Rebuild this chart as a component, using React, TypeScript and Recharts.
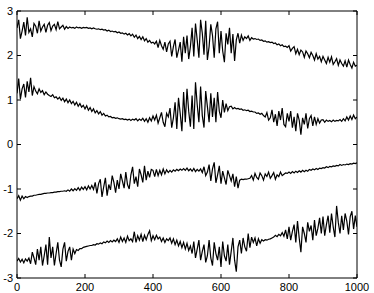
import React from "react";
import { LineChart, Line, XAxis, YAxis } from "recharts";

const STEP = 5;

const series1: number[] = [
  2.62, 2.8, 2.38, 2.55, 2.75, 2.45, 2.86, 2.52, 2.6, 2.42, 2.72, 2.66, 2.5, 2.78, 2.55, 2.64, 2.7, 2.52, 2.68, 2.74,
  2.56, 2.66, 2.7, 2.58, 2.76, 2.6, 2.64, 2.68, 2.59, 2.65, 2.61, 2.64, 2.62, 2.63, 2.61, 2.64, 2.62, 2.63, 2.61, 2.63,
  2.62, 2.63, 2.61, 2.62, 2.6, 2.62, 2.6, 2.59, 2.6, 2.58, 2.59, 2.57, 2.58, 2.55, 2.57, 2.54, 2.55, 2.53, 2.54, 2.51,
  2.53, 2.5, 2.51, 2.48, 2.5, 2.46, 2.49, 2.44, 2.48, 2.41, 2.46, 2.38, 2.43, 2.36, 2.42, 2.33, 2.38, 2.3, 2.34, 2.28,
  2.3, 2.26, 2.32, 2.18, 2.34, 2.22, 2.14, 2.3, 2.08, 2.26, 2.32, 1.98, 2.2, 2.36, 1.95, 2.12, 2.3, 1.86, 2.42, 2.05,
  2.45, 1.92, 2.2, 2.62, 1.98, 2.72, 2.35, 1.95, 2.8, 2.5, 2.02, 2.78, 1.9, 2.2, 2.7, 2.45, 1.95, 2.6, 2.76, 2.05,
  2.55, 2.1, 1.85, 2.5, 2.25, 2.62, 2.05, 2.48, 1.88, 2.35, 2.5, 2.28, 2.46, 2.34, 2.42, 2.38, 2.44, 2.34, 2.4, 2.37,
  2.38, 2.36, 2.37, 2.34, 2.35, 2.32, 2.33, 2.3, 2.31, 2.29, 2.3, 2.27, 2.28, 2.24, 2.26, 2.22, 2.24, 2.2, 2.21, 2.18,
  2.22, 2.1, 2.16, 2.2, 2.04, 2.14, 2.02, 2.12, 2.08, 1.96, 2.1, 2.04, 1.95, 2.07, 2.0, 1.9, 2.04, 1.92, 1.98, 1.86,
  1.98, 1.9, 1.82, 1.96, 1.85, 1.97, 1.8, 1.86, 1.93, 1.78, 1.9, 1.82, 1.76, 1.88, 1.74, 1.9, 1.8, 1.72, 1.85, 1.76,
  1.78,
];

const series2: number[] = [
  1.15, 1.48, 1.02, 1.25, 1.36, 1.06, 1.42, 1.18, 1.5, 1.1, 1.3, 1.2, 1.14, 1.25, 1.17, 1.21, 1.12, 1.18, 1.13, 1.1,
  1.08, 1.12, 1.05, 1.07, 1.02, 1.06, 0.99, 1.04, 0.96, 1.02, 0.94, 1.0, 0.92, 0.97, 0.89, 0.95, 0.86, 0.92, 0.84, 0.88,
  0.8, 0.87, 0.77, 0.83, 0.74, 0.8, 0.71, 0.76, 0.69, 0.74, 0.66, 0.7, 0.64, 0.66, 0.62, 0.63, 0.6, 0.61, 0.59, 0.6,
  0.58, 0.57, 0.58, 0.56, 0.57, 0.55, 0.57, 0.54, 0.57, 0.55, 0.58, 0.53, 0.57, 0.54, 0.59, 0.52, 0.58, 0.5, 0.6, 0.53,
  0.64, 0.55, 0.66, 0.48, 0.6, 0.72, 0.5, 0.4, 0.7, 0.62, 0.82, 0.38, 0.6, 0.95, 0.35, 1.05, 0.7, 0.3, 1.18, 0.5,
  1.25, 0.75, 0.4, 1.1, 0.35, 1.4, 0.9, 0.5, 1.3, 0.65, 0.38, 1.2, 0.85, 0.5, 1.15, 0.62, 1.05, 0.5, 1.18, 0.75,
  0.6, 1.0, 0.72, 0.92, 0.76, 0.85, 0.86, 0.8, 0.83, 0.8, 0.81, 0.79, 0.8, 0.77, 0.78, 0.76, 0.77, 0.74, 0.75, 0.73,
  0.73, 0.7, 0.71, 0.68, 0.7, 0.65, 0.62, 0.72, 0.55, 0.6, 0.78, 0.5, 0.68, 0.42, 0.75, 0.55, 0.82, 0.45, 0.4, 0.7,
  0.52, 0.75, 0.38, 0.62, 0.3, 0.7, 0.55, 0.22, 0.6, 0.45, 0.7, 0.36, 0.58, 0.65, 0.42, 0.62, 0.45, 0.58, 0.48, 0.55,
  0.56, 0.5, 0.55, 0.52, 0.54, 0.51, 0.55, 0.52, 0.54, 0.53, 0.56, 0.52, 0.58, 0.53, 0.62, 0.55, 0.64, 0.56, 0.66, 0.58,
  0.62,
];

const series3: number[] = [
  -1.22, -1.15, -1.25, -1.16, -1.22, -1.17, -1.19, -1.17, -1.16, -1.16, -1.14, -1.14, -1.13, -1.12, -1.12, -1.11, -1.1, -1.1, -1.09, -1.09,
  -1.08, -1.08, -1.07, -1.07, -1.06, -1.06, -1.05, -1.05, -1.04, -1.05, -1.02, -1.05, -1.0, -1.04, -0.99, -1.03, -0.97, -1.03, -0.96, -1.01,
  -0.95, -1.02, -0.93, -1.0, -0.92, -1.01, -0.85, -1.1, -0.88, -0.78, -1.18, -0.95, -0.75, -1.15, -0.9, -1.02, -0.7, -0.85, -1.08, -0.8,
  -1.0, -0.66, -0.82, -0.98, -0.62, -0.9, -1.0, -0.68, -0.5, -0.88, -0.72, -0.95, -0.55, -0.68, -0.85, -0.48, -0.8, -0.6, -0.74, -0.56,
  -0.58, -0.72, -0.56, -0.7, -0.58, -0.68, -0.55, -0.66, -0.57, -0.63, -0.58, -0.62, -0.57, -0.6, -0.56, -0.59, -0.55, -0.58, -0.54, -0.58,
  -0.53, -0.59, -0.55, -0.6, -0.54, -0.61, -0.56, -0.6, -0.55, -0.63, -0.5, -0.7, -0.62, -0.45, -0.82, -0.55, -0.4, -0.86, -0.68, -0.48,
  -0.88, -0.6, -0.75, -0.9, -0.58, -0.7, -0.82, -0.66, -0.95, -0.72, -0.98, -0.8, -0.78, -0.79, -0.78, -0.78, -0.77, -0.76, -0.7, -0.8,
  -0.65, -0.74, -0.78, -0.64, -0.7, -0.8, -0.66, -0.72, -0.62, -0.76, -0.7, -0.63, -0.78, -0.68, -0.72, -0.62, -0.7, -0.67, -0.64, -0.65,
  -0.62, -0.65, -0.61, -0.64, -0.6, -0.63, -0.59, -0.62, -0.58, -0.61, -0.58, -0.6, -0.56, -0.58, -0.55, -0.57, -0.54, -0.56, -0.53, -0.54,
  -0.52, -0.53, -0.5, -0.52, -0.49, -0.5, -0.48, -0.49, -0.47, -0.48, -0.45, -0.47, -0.45, -0.46, -0.44, -0.45, -0.43, -0.44, -0.42, -0.43,
  -0.41,
];

const series4: number[] = [
  -2.62, -2.56, -2.64, -2.58, -2.66, -2.57, -2.62, -2.55, -2.68, -2.42, -2.55, -2.7, -2.35, -2.6, -2.3, -2.72, -2.5, -2.25, -2.7, -2.08,
  -2.55, -2.3, -2.72, -2.45, -2.2, -2.6, -2.75, -2.35, -2.2, -2.62, -2.4, -2.3, -2.6, -2.35, -2.45, -2.36, -2.38, -2.34, -2.34, -2.31,
  -2.3, -2.29, -2.28, -2.27, -2.27, -2.25, -2.26, -2.23, -2.24, -2.21, -2.23, -2.19, -2.21, -2.17, -2.2, -2.16, -2.19, -2.15, -2.18, -2.12,
  -2.2, -2.08, -2.18, -2.1, -2.2, -2.06, -2.16, -2.12, -2.18, -1.96, -2.2, -2.05, -2.15, -2.02, -2.18, -2.04, -2.14, -2.02, -1.94, -2.16,
  -2.05, -2.14, -2.04, -2.12, -2.08, -2.18, -2.1, -2.2, -2.12, -2.16, -2.1, -2.22, -2.12, -2.25, -2.15, -2.28, -2.18, -2.32, -2.2, -2.35,
  -2.22, -2.38, -2.28, -2.45, -2.18, -2.55, -2.35, -2.15, -2.6, -2.4, -2.25, -2.65, -2.5, -2.15, -2.55, -2.72, -2.2, -2.45, -2.6, -2.3,
  -2.75, -2.18, -2.5, -2.62, -2.25, -2.7, -2.4, -2.1, -2.6, -2.86, -2.3, -2.15, -2.45, -2.1, -2.3, -2.4, -2.0, -2.32, -2.08, -2.2,
  -2.1, -2.28, -2.12, -2.22, -2.14, -2.17, -2.14, -2.15, -2.13, -2.12, -2.1, -2.08, -2.04, -2.07, -2.02, -2.05, -1.98, -2.06, -1.92, -2.12,
  -1.85, -2.15, -1.95, -1.8, -2.2, -1.72, -2.1, -2.42, -1.85, -2.0, -2.2, -1.75, -1.95, -1.82, -2.15, -1.7, -2.05, -1.88, -1.65, -2.0,
  -1.62, -2.05, -1.8, -1.6, -1.98, -1.55, -1.85, -2.08, -1.38, -1.75, -2.0, -1.6, -1.92, -1.55, -1.72, -2.02, -1.62, -1.5, -1.9, -1.6,
  -1.85,
];

const xTicks = [0, 200, 400, 600, 800, 1000];
const yTicks = [-3, -2, -1, 0, 1, 2, 3];

const data = series1.map((v, i) => ({
  x: i * STEP,
  s1: v,
  s2: series2[i],
  s3: series3[i],
  s4: series4[i],
}));

const tickStyle = { fill: "#000", fontSize: 11, fontFamily: "'Liberation Sans', Arial, sans-serif" };
const blank = () => "";

export default function App() {
  return (
    <div style={{ position: "absolute", left: 0, top: 0, width: 374, height: 293, background: "#fff" }}>
      <LineChart
        width={374}
        height={293}
        data={data}
        margin={{ top: 10, right: 16, bottom: 14, left: 16 }}
      >
        <XAxis
          dataKey="x"
          type="number"
          domain={[0, 1000]}
          ticks={xTicks}
          height={1}
          tickSize={-4}
          tickMargin={9}
          stroke="#000"
          tick={tickStyle}
          interval={0}
          allowDataOverflow
        />
        <XAxis
          xAxisId="top"
          orientation="top"
          dataKey="x"
          type="number"
          domain={[0, 1000]}
          ticks={xTicks}
          height={1}
          tickSize={-4}
          stroke="#000"
          tickFormatter={blank}
          interval={0}
          allowDataOverflow
        />
        <YAxis
          type="number"
          domain={[-3, 3]}
          ticks={yTicks}
          width={1}
          tickSize={-4}
          tickMargin={8}
          stroke="#000"
          tick={tickStyle}
          interval={0}
          allowDataOverflow
        />
        <YAxis
          yAxisId="right"
          orientation="right"
          type="number"
          domain={[-3, 3]}
          ticks={yTicks}
          width={1}
          tickSize={-4}
          stroke="#000"
          tickFormatter={blank}
          interval={0}
          allowDataOverflow
        />
        {["s1", "s2", "s3", "s4"].map((k) => (
          <Line
            key={k}
            dataKey={k}
            stroke="#000"
            strokeWidth={1.2}
            dot={false}
            activeDot={false}
            isAnimationActive={false}
            type="linear"
          />
        ))}
      </LineChart>
    </div>
  );
}
